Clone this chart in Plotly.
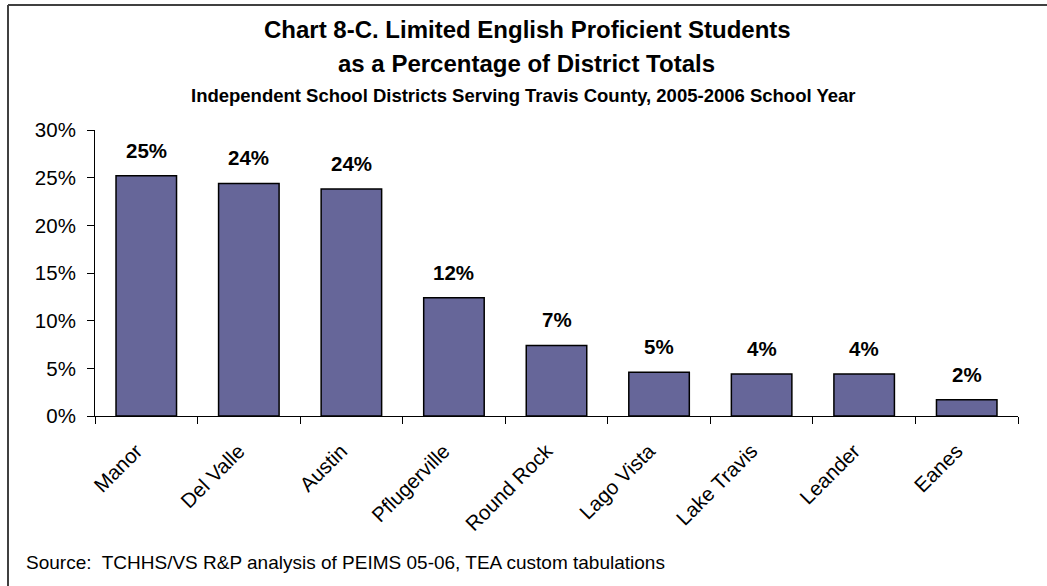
import plotly.graph_objects as go

districts = ["Manor", "Del Valle", "Austin", "Pflugerville", "Round Rock",
             "Lago Vista", "Lake Travis", "Leander", "Eanes"]
lep_share = [0.252, 0.244, 0.238, 0.124, 0.074, 0.046, 0.044, 0.044, 0.017]
y_ticks = [0, 0.05, 0.10, 0.15, 0.20, 0.25, 0.30]

FONT = "Arial, Liberation Sans, sans-serif"
W, H = 1047, 586
ML, MR, MT, MB = 95, 29, 130, 170

fig = go.Figure(go.Bar(
    x=districts, y=lep_share,
    marker=dict(color="#666699", line=dict(color="#000000", width=1.5)),
    width=0.59,
    hoverinfo="skip",
))

# value labels above each bar
for d, v in zip(districts, lep_share):
    fig.add_annotation(x=d, y=v, text=f"<b>{v:.0%}</b>", showarrow=False,
                       yanchor="bottom", yshift=12,
                       font=dict(family=FONT, size=20.5, color="#000000"))

pw, ph = W - ML - MR, H - MT - MB
def px(x):
    return (x - ML) / pw
def py(y):
    return 1 - (y - MT) / ph

# titles
fig.add_annotation(xref="paper", yref="paper", x=px(527), y=py(29),
                   text="<b>Chart 8-C. Limited English Proficient Students</b>",
                   showarrow=False, xanchor="center", yanchor="middle",
                   font=dict(family=FONT, size=24, color="#000000"))
fig.add_annotation(xref="paper", yref="paper", x=px(526), y=py(63),
                   text="<b>as a Percentage of District Totals</b>",
                   showarrow=False, xanchor="center", yanchor="middle",
                   font=dict(family=FONT, size=24, color="#000000"))
fig.add_annotation(xref="paper", yref="paper", x=px(523), y=py(95),
                   text="<b>Independent School Districts Serving Travis County, 2005-2006 School Year</b>",
                   showarrow=False, xanchor="center", yanchor="middle",
                   font=dict(family=FONT, size=18.5, color="#000000"))
fig.add_annotation(xref="paper", yref="paper", x=px(24), y=py(562),
                   text="Source:  TCHHS/VS R&P analysis of PEIMS 05-06, TEA custom tabulations",
                   showarrow=False, xanchor="left", yanchor="middle",
                   font=dict(family=FONT, size=19, color="#000000"))

# outer frame (top and left edges)
fig.add_shape(type="line", xref="paper", yref="paper",
              x0=px(8), x1=px(W), y0=py(5), y1=py(5),
              line=dict(color="#404040", width=2))
fig.add_shape(type="line", xref="paper", yref="paper",
              x0=px(8), x1=px(8), y0=py(5), y1=py(H),
              line=dict(color="#404040", width=2))

fig.update_layout(
    width=W, height=H,
    margin=dict(l=ML, r=MR, t=MT, b=MB),
    paper_bgcolor="#ffffff", plot_bgcolor="#ffffff",
    showlegend=False,
    font=dict(family=FONT, color="#000000"),
    xaxis=dict(
        showline=True, linecolor="#000000", linewidth=1,
        ticks="outside", tickson="boundaries", ticklen=7, tickcolor="#000000",
        tickangle=-45, tickfont=dict(family=FONT, size=20.5, color="#000000"),
        ticklabelstandoff=14, ticklabelshift=-10,
        showgrid=False, fixedrange=True,
    ),
    yaxis=dict(
        range=[0, 0.30], tickvals=y_ticks, tickformat=".0%",
        showline=True, linecolor="#000000", linewidth=1,
        ticks="outside", ticklen=7, tickcolor="#000000",
        ticklabelstandoff=7,
        tickfont=dict(family=FONT, size=20.5, color="#000000"),
        showgrid=False, zeroline=False, fixedrange=True,
    ),
)

fig.write_html("out.html")
